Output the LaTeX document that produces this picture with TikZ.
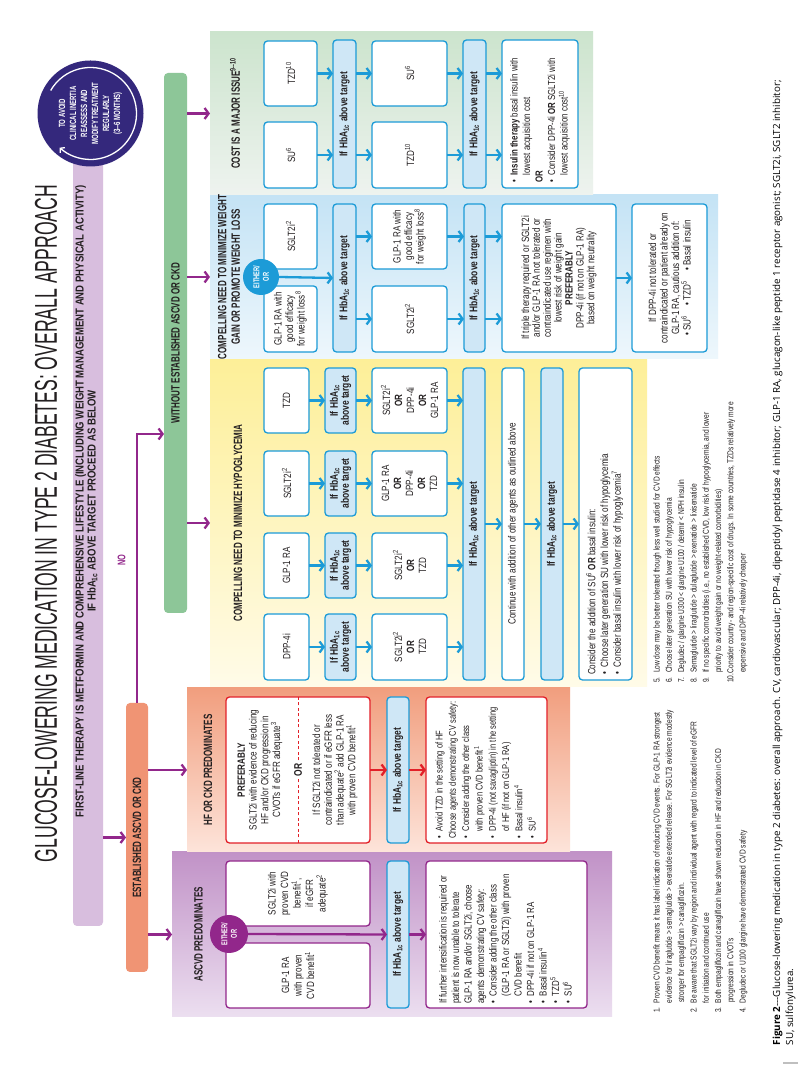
\documentclass[tikz,border=0pt]{standalone}
\usepackage{fontspec}
\setmainfont{Liberation Sans}[FakeStretch=0.77]
\newfontfamily\fhead{Liberation Sans}[FakeStretch=0.67]
\newfontfamily\ftitle{Liberation Sans}[FakeStretch=0.55]
\newfontfamily\fcap{Open Sans}
\usetikzlibrary{arrows.meta,calc}

\definecolor{txt}{RGB}{35,31,32}
\definecolor{cblue}{RGB}{28,155,215}
\definecolor{lblue}{RGB}{207,231,246}
\definecolor{mag}{RGB}{146,39,139}
\definecolor{redc}{RGB}{226,32,40}
\definecolor{navy}{RGB}{52,40,124}
\definecolor{lpurp}{RGB}{216,190,222}
\definecolor{orng}{RGB}{240,148,116}
\definecolor{grn}{RGB}{141,198,152}
\definecolor{ascT}{RGB}{193,146,199}
\definecolor{ascB}{RGB}{236,223,240}
\definecolor{hfT}{RGB}{241,158,126}
\definecolor{hfB}{RGB}{253,228,218}
\definecolor{hyT}{RGB}{253,239,152}
\definecolor{hyB}{RGB}{255,251,232}
\definecolor{wtT}{RGB}{196,227,245}
\definecolor{wtB}{RGB}{238,247,252}
\definecolor{coT}{RGB}{204,228,205}
\definecolor{coB}{RGB}{238,243,239}

\newcommand\fsz[2]{\fontsize{#1}{#2}\selectfont}
\newcommand\sps[1]{\textsuperscript{#1}}
\newcommand\hbA{If HbA\textsubscript{1c} above target}
\newcommand\fl[1]{\multicolumn{2}{@{}l@{}}{#1}}
\newcommand\fnum[1]{\makebox[10pt][l]{#1}}
\newcommand\fnind{\hspace*{10pt}}
\newenvironment{btab}{\begin{tabular}{@{}l@{\hspace{5pt}}l@{}}}{\end{tabular}}
\newcommand\bx[7]{\node[#1, minimum width={(#4-#3)*1pt}, minimum height={(#6-#5)*1pt}] (#2) at ({(#3+#4)/2},{-(#5+#6)/2}) {#7};}

\tikzset{
 every node/.style={inner sep=0pt, outer sep=0pt, text=txt},
 bg/.style={rectangle, draw=none},
 barbox/.style={rectangle, rounded corners=4pt, draw=none},
 wbox/.style={rectangle, draw=cblue, line width=1.3pt, rounded corners=3.5pt, fill=white, align=center, font=\fsz{10.5}{11.5}},
 hbox/.style={wbox, fill=lblue, font=\fsz{11}{11}\bfseries},
 rbox/.style={wbox, draw=redc},
 pbox/.style={wbox, draw=mag},
 barr/.style={draw=cblue, line width=2.3pt, -{Straight Barb[length=4pt,width=11pt]}},
 marr/.style={barr, draw=mag},
 rarr/.style={barr, draw=redc},
 head/.style={font=\fhead\bfseries\fsz{12}{13.5}, align=center},
 eo/.style={circle, text=white, font=\fhead\bfseries\fsz{8.5}{9.5}, align=center},
}

\begin{document}
\begin{tikzpicture}[x=1pt,y=1pt]
\useasboundingbox (0,0) rectangle (806,1070);
\fill[white] (0,0) rectangle (806,1070);
\begin{scope}[rotate=90, transform shape]

% title
\node (title) at (546.5,-46) {\resizebox{677pt}{22pt}{\ftitle\fsz{30}{30}GLUCOSE-LOWERING MEDICATION IN TYPE 2 DIABETES: OVERALL APPROACH}};

% first-line bar
\bx{barbox, fill=lpurp}{firstbar}{144}{957}{73}{103}{}
\node[anchor=base] (fl1) at (569,-83.5) {\resizebox{632pt}{\height}{\fhead\bfseries\fsz{11.5}{12}FIRST-LINE THERAPY IS METFORMIN AND COMPREHENSIVE LIFESTYLE (INCLUDING WEIGHT MANAGEMENT AND PHYSICAL ACTIVITY)}};
\node[anchor=base] (fl2) at (569,-95.5) {\resizebox{222pt}{\height}{\fhead\bfseries\fsz{11.5}{12}IF HbA\textsubscript{1c} ABOVE TARGET PROCEED AS BELOW}};

% reminder circle
\node[circle, fill=navy, minimum size=106pt, text=white, align=center, font=\fhead\bfseries\fsz{9}{11}] (remind) at (956.5,-90.5) {TO AVOID\\CLINICAL INERTIA\\REASSESS AND\\MODIFY TREATMENT\\REGULARLY\\(3--6 MONTHS)};
\draw[white, line width=1.3pt, -{Straight Barb[length=3pt,width=7pt]}] ($(remind.center)+(60:46)$) arc[start angle=60, end angle=-222, radius=46];

% decision bars
\bx{barbox, fill=orng, head}{estbar}{98}{367}{126}{148}{ESTABLISHED ASCVD OR CKD}
\bx{barbox, fill=grn, head}{nobar}{457}{997}{164}{187}{WITHOUT ESTABLISHED ASCVD OR CKD}

% column backgrounds
\bx{bg, top color=ascT, bottom color=ascB}{ascbg}{53}{218}{172}{612}{}
\bx{bg, top color=hfT, bottom color=hfB}{hfbg}{218}{382}{187}{570}{}
\bx{bg, top color=hyT, bottom color=hyB}{hybg}{383}{711}{210}{647}{}
\bx{bg, top color=wtT, bottom color=wtB}{wtbg}{711}{875}{210}{718}{}
\bx{bg, top color=coT, bottom color=coB}{cobg}{875}{1038}{210}{593}{}

% flow arrows
\draw[marr] (firstbar.south -| estbar.north) -- (estbar.north);
\draw[marr] (estbar.south -| ascbg.north) -- (ascbg.north);
\draw[marr] (estbar.south -| hfbg.north) -- (hfbg.north);
\coordinate (nocorner) at (636,-137);
\draw[marr] (estbar.east) -- (nocorner) -- (nocorner |- nobar.north);
\node[font=\fhead\bfseries\fsz{11}{11}, text=mag] (nolab) at (510,-121.5) {NO};
\draw[marr] (nobar.south -| hybg.north) -- (hybg.north);
\draw[marr] (nobar.south -| wtbg.north) -- (wtbg.north);
\draw[marr] (nobar.south -| cobg.north) -- (cobg.north);

% headers
\node[head] (aschd) at (135.5,-198.5) {ASCVD PREDOMINATES};
\node[head] (hfhd) at (300,-208) {HF OR CKD PREDOMINATES};
\node[head] (hyhd) at (547,-238) {COMPELLING NEED TO MINIMIZE HYPOGLYCEMIA};
\node[head] (wthd) at (793,-229) {COMPELLING NEED TO MINIMIZE WEIGHT\\GAIN OR PROMOTE WEIGHT LOSS};
\node[head] (cohd) at (956.5,-235) {COST IS A MAJOR ISSUE\sps{9--10}};

% ===== ASCVD column
\bx{pbox, font=\fsz{10.5}{12.5}}{a1a}{62}{127}{226}{370}{GLP-1 RA\\with proven\\CVD benefit\sps{1}}
\bx{pbox, font=\fsz{10.5}{12.5}}{a1b}{144}{209}{226}{370}{SGLT2i with\\proven CVD\\benefit\sps{1},\\if eGFR\\adequate\sps{2}}
\node[eo, fill=mag, minimum size=38pt] (aeo) at (136,-229) {EITHER/\\OR};
\bx{hbox}{ah}{62}{209}{387}{409}{\hbA}
\bx{pbox}{af}{62}{209}{426}{587}{}
\node[anchor=west, font=\fsz{10.3}{12.5}] (aft) at ($(af.west)+(4,0)$) {\begin{btab}
\fl{If further intensification is required or}\\
\fl{patient is now unable to tolerate}\\
\fl{GLP-1 RA and/or SGLT2i, choose}\\
\fl{agents demonstrating CV safety:}\\
\textbullet & Consider adding the other class\\
 & (GLP-1 RA or SGLT2i) with proven\\
 & CVD benefit\\
\textbullet & DPP-4i if not on GLP-1 RA\\
\textbullet & Basal insulin\sps{4}\\
\textbullet & TZD\sps{5}\\
\textbullet & SU\sps{6}
\end{btab}};
\draw[marr] (aeo.south) -- (ah.north);
\draw[marr] (ah.south) -- (af.north);

% ===== HF column
\bx{rbox}{hf1}{227}{373}{226}{370}{}
\coordinate (dl) at (227,-298);
\coordinate (dr) at (373,-298);
\draw[redc, line width=1pt, dash pattern=on 3pt off 2.5pt] (dl) -- (dr);
\node[font=\fsz{10.5}{11.7}, align=center] (hf1t) at (300,-260) {\textbf{PREFERABLY}\\SGLT2i with evidence of reducing\\HF and/or CKD progression in\\CVOTs if eGFR adequate\sps{3}};
\node[fill=white, inner sep=2pt, font=\fsz{11}{11}\bfseries] (hf1or) at (300,-298) {OR};
\node[font=\fsz{10.5}{11.7}, align=center] (hf1b) at (300,-335) {If SGLT2i not tolerated or\\contraindicated or if eGFR less\\than adequate\sps{2} add GLP-1 RA\\with proven CVD benefit\sps{1}};
\bx{hbox}{hfh}{227}{373}{387}{409}{\hbA}
\bx{rbox}{hff}{227}{373}{426}{547}{}
\node[anchor=west, font=\fsz{9.8}{13.3}] (hfft) at ($(hff.west)+(4,0)$) {\begin{btab}
\textbullet & Avoid TZD in the setting of HF\\
\fl{Choose agents demonstrating CV safety:}\\
\textbullet & Consider adding the other class\\
 & with proven CVD benefit\sps{1}\\
\textbullet & DPP-4i (not saxagliptin) in the setting\\
 & of HF (if not on GLP-1 RA)\\
\textbullet & Basal insulin\sps{4}\\
\textbullet & SU\sps{6}
\end{btab}};
\draw[rarr] (hf1.south) -- (hfh.north);
\draw[rarr] (hfh.south) -- (hff.north);

% ===== Hypoglycemia column
\bx{wbox}{hya1}{390}{456}{264}{309}{DPP-4i}
\bx{wbox}{hyb1}{472}{537}{264}{309}{GLP-1 RA}
\bx{wbox}{hyc1}{554}{619}{264}{309}{SGLT2i\sps{2}}
\bx{wbox}{hyd1}{637}{702}{264}{309}{TZD}
\bx{hbox}{hya2}{390}{456}{325}{356}{If HbA\textsubscript{1c}\\above target}
\bx{hbox}{hyb2}{472}{537}{325}{356}{If HbA\textsubscript{1c}\\above target}
\bx{hbox}{hyc2}{554}{619}{325}{356}{If HbA\textsubscript{1c}\\above target}
\bx{hbox}{hyd2}{637}{702}{325}{356}{If HbA\textsubscript{1c}\\above target}
\bx{wbox, font=\fsz{10.5}{12}}{hya3}{390}{456}{372}{447}{SGLT2i\sps{2}\\\textbf{OR}\\TZD}
\bx{wbox, font=\fsz{10.5}{12}}{hyb3}{472}{537}{372}{447}{SGLT2i\sps{2}\\\textbf{OR}\\TZD}
\bx{wbox, font=\fsz{10.5}{12}}{hyc3}{554}{619}{372}{447}{GLP-1 RA\\\textbf{OR}\\DPP-4i\\\textbf{OR}\\TZD}
\bx{wbox, font=\fsz{10.5}{12}}{hyd3}{637}{702}{372}{447}{SGLT2i\sps{2}\\\textbf{OR}\\DPP-4i\\\textbf{OR}\\GLP-1 RA}
\bx{hbox}{hyh}{390}{702}{463}{485}{\hbA}
\bx{wbox}{hyc}{390}{702}{502}{524}{Continue with addition of other agents as outlined above}
\bx{hbox}{hyh2}{390}{702}{541}{563}{\hbA}
\bx{wbox}{hyf}{390}{702}{579}{632}{}
\node[anchor=west, font=\fsz{10.5}{12.7}] (hyft) at ($(hyf.west)+(5,0)$) {\begin{btab}
\fl{Consider the addition of SU\sps{6} \textbf{OR} basal insulin:}\\
\textbullet & Choose later generation SU with lower risk of hypoglycemia\\
\textbullet & Consider basal insulin with lower risk of hypoglycemia\sps{7}
\end{btab}};
\foreach \c in {a,b,c,d}{
 \draw[barr] (hy\c1.south) -- (hy\c2.north);
 \draw[barr] (hy\c2.south) -- (hy\c3.north);
 \draw[barr] (hy\c3.south) -- (hy\c3.south |- hyh.north);
}
\draw[barr] (hyh.south) -- (hyc.north);
\draw[barr] (hyc.south) -- (hyh2.north);
\draw[barr] (hyh2.south) -- (hyf.north);

% ===== Weight column
\bx{wbox}{wa1}{718}{784}{264}{317}{GLP-1 RA with\\good efficacy\\for weight loss\sps{8}}
\bx{wbox}{wb1}{801}{866}{264}{317}{SGLT2i\sps{2}}
\node[eo, fill=cblue, minimum size=36pt] (weo) at (793,-261) {EITHER/\\OR};
\bx{hbox}{wh1}{718}{866}{333}{356}{\hbA}
\bx{wbox}{wa2}{718}{784}{372}{447}{SGLT2i\sps{2}}
\bx{wbox}{wb2}{801}{866}{372}{447}{GLP-1 RA with\\good efficacy\\for weight loss\sps{8}}
\bx{hbox}{wh2}{718}{866}{464}{485}{\hbA}
\bx{wbox, font=\fsz{10.5}{10.9}}{wt}{718}{866}{502}{616}{If triple therapy required or SGLT2i\\and/or GLP-1 RA not tolerated or\\contraindicated use regimen with\\lowest risk of weight gain\\\textbf{PREFERABLY}\\DPP-4i (if not on GLP-1 RA)\\based on weight neutrality}
\bx{wbox, font=\fsz{10.5}{11.5}}{wd}{718}{866}{632}{707}{If DPP-4i not tolerated or\\contraindicated or patient already on\\GLP-1 RA, cautious addition of:\\\textbullet\ SU\sps{6}\quad\textbullet\ TZD\sps{5}\quad\textbullet\ Basal insulin}
\draw[barr] (weo.south) -- (wh1.north);
\draw[barr] (wa2.north |- wh1.south) -- (wa2.north);
\draw[barr] (wb2.north |- wh1.south) -- (wb2.north);
\draw[barr] (wa2.south) -- (wa2.south |- wh2.north);
\draw[barr] (wb2.south) -- (wb2.south |- wh2.north);
\draw[barr] (wa2.south |- wh2.south) -- (wa2.south |- wt.north);
\draw[barr] (wb2.south |- wh2.south) -- (wb2.south |- wt.north);
\draw[barr] (wt.south) -- (wd.north);

% ===== Cost column
\bx{wbox}{ca1}{882}{948}{264}{317}{SU\sps{6}}
\bx{wbox}{cb1}{964}{1029}{264}{317}{TZD\sps{10}}
\bx{hbox}{ch1}{882}{1030}{333}{356}{\hbA}
\bx{wbox}{ca2}{882}{948}{372}{447}{TZD\sps{10}}
\bx{wbox}{cb2}{964}{1029}{372}{447}{SU\sps{6}}
\bx{hbox}{ch2}{882}{1030}{463}{486}{\hbA}
\bx{wbox}{cf}{882}{1030}{502}{578}{}
\node[anchor=west, font=\fsz{10.2}{12.5}] (cft) at ($(cf.west)+(5,0)$) {\begin{btab}
\textbullet & \textbf{Insulin therapy} basal insulin with\\
 & lowest acquisition cost\\
\fl{\textbf{OR}}\\
\textbullet & Consider DPP-4i \textbf{OR} SGLT2i with\\
 & lowest acquisition cost\sps{10}
\end{btab}};
\draw[barr] (ca1.south) -- (ca1.south |- ch1.north);
\draw[barr] (cb1.south) -- (cb1.south |- ch1.north);
\draw[barr] (ca2.north |- ch1.south) -- (ca2.north);
\draw[barr] (cb2.north |- ch1.south) -- (cb2.north);
\draw[barr] (ca2.south) -- (ca2.south |- ch2.north);
\draw[barr] (cb2.south) -- (cb2.south |- ch2.north);
\draw[barr] (ca2.south |- ch2.south) -- (ca2.south |- cf.north);
\draw[barr] (cb2.south |- ch2.south) -- (cb2.south |- cf.north);

% ===== footnotes
\node[anchor=north west, font=\fsz{8.6}{12.3}] (fnl) at (57,-651) {\begin{tabular}{@{}l@{}}
\fnum{1.}Proven CVD benefit means it has label indication of reducing CVD events. For GLP-1 RA strongest\\
\fnind evidence for liraglutide > semaglutide > exenatide extended release. For SGLT2i evidence modestly\\
\fnind stronger for empagliflozin > canagliflozin.\\
\fnum{2.}Be aware that SGLT2i vary by region and individual agent with regard to indicated level of eGFR\\
\fnind for initiation and continued use\\
\fnum{3.}Both empagliflozin and canagliflozin have shown reduction in HF and reduction in CKD\\
\fnind progression in CVOTs\\
\fnum{4.}Degludec or U100 glargine have demonstrated CVD safety
\end{tabular}};
\node[anchor=north west, font=\fsz{8.6}{12.3}] (fnr) at (387,-651) {\begin{tabular}{@{}l@{}}
\fnum{5.}Low dose may be better tolerated though less well studied for CVD effects\\
\fnum{6.}Choose later generation SU with lower risk of hypoglycemia\\
\fnum{7.}Degludec / glargine U300 < glargine U100 / detemir < NPH insulin\\
\fnum{8.}Semaglutide > liraglutide > dulaglutide > exenatide > lixisenatide\\
\fnum{9.}If no specific comorbidities (i.e., no established CVD, low risk of hypoglycemia, and lower\\
\fnind priority to avoid weight gain or no weight-related comorbidities)\\
\fnum{10.}Consider country- and region-specific cost of drugs. In some countries, TZDs relatively more\\
\fnind expensive and DPP-4i relatively cheaper
\end{tabular}};

% caption
\node[anchor=base west, font=\fcap\fsz{9.8}{12}, text=black] (cap1) at (25,-780) {\textbf{Figure 2}---Glucose-lowering medication in type 2 diabetes: overall approach. CV, cardiovascular; DPP-4i, dipeptidyl peptidase 4 inhibitor; GLP-1 RA, glucagon-like peptide 1 receptor agonist; SGLT2i, SGLT2 inhibitor;};
\node[anchor=base west, font=\fcap\fsz{9.8}{12}, text=black] (cap2) at (25,-793) {SU, sulfonylurea.};
\draw[black!25, line width=1.5pt] (7,-783) -- (7,-798);

\end{scope}
\end{tikzpicture}
\end{document}
